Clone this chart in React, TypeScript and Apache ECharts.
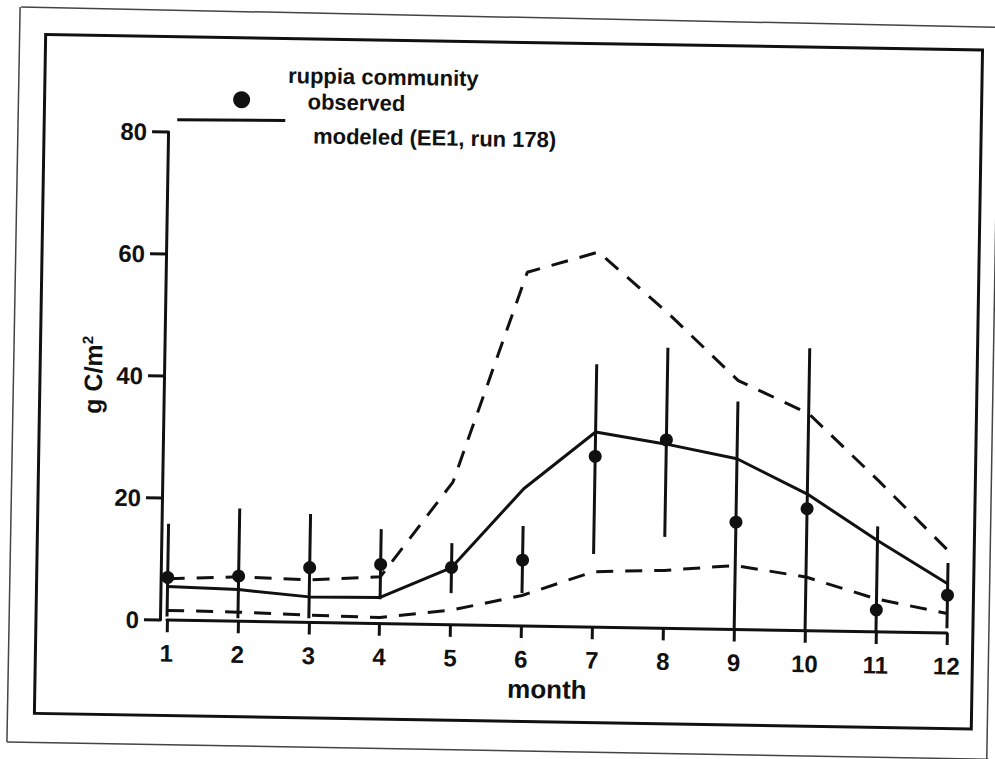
import React, { useEffect, useRef } from "react";
import * as echarts from "echarts";

const months = [1, 2, 3, 4, 5, 6, 7, 8, 9, 10, 11, 12];
const observed = [7.0, 7.4, 9.0, 9.7, 9.4, 10.8, 28.0, 30.9, 17.6, 20.0, 3.6, 6.2];
const errLow = [0.6, 0.5, 0.7, 4.0, 5.2, 5.4, 12.0, 15.0, 0.2, 0.0, 0.0, 0.8];
const errHigh = [15.8, 18.5, 17.8, 15.5, 13.4, 16.4, 43.1, 46.0, 37.4, 46.3, 17.3, 11.5];
const modeled = [5.5, 5.2, 4.2, 4.3, 9.4, 22.5, 32.0, 30.2, 28.0, 22.4, 15.0, 8.1];
const modeledUpper = [6.8, 7.3, 7.0, 7.7, 23.4, 58.0, 61.5, 51.6, 40.8, 35.6, 24.8, 13.5];
const modeledLower = [1.6, 1.5, 1.2, 1.0, 2.4, 5.0, 9.1, 9.5, 10.5, 8.8, 5.4, 3.2];
const yTicks = { min: 0, max: 80, interval: 20 };
const legendTitle = "ruppia community";
const legendObserved = "observed";
const legendModeled = "modeled (EE1, run 178)";

const INK = "#111";
const FONT = '"Liberation Sans", Arial, Helvetica, sans-serif';

export default function App() {
  const ref = useRef<HTMLDivElement>(null);

  useEffect(() => {
    if (!ref.current) return;
    const chart = echarts.init(ref.current, undefined, { renderer: "svg" });
    const pair = (vals: number[]) => months.map((m, i) => [m, vals[i]]);
    const dashed = {
      color: INK,
      width: 3,
      type: [17, 12] as any,
    };
    chart.setOption({
      animation: false,
      backgroundColor: "#fff",
      grid: { left: 171, right: 44, top: 137.5, bottom: 133.4, containLabel: false },
      xAxis: {
        type: "value",
        min: 1,
        max: 12,
        interval: 1,
        offset: 3,
        name: "month",
        nameLocation: "middle",
        nameGap: 45,
        nameTextStyle: {
          fontFamily: FONT,
          fontWeight: "bold",
          fontSize: 26,
          color: INK,
          padding: [0, 18, 0, 0],
        },
        axisLine: { show: true, lineStyle: { color: INK, width: 3 } },
        axisTick: { show: true, length: 12, lineStyle: { color: INK, width: 3 } },
        axisLabel: { fontFamily: FONT, fontWeight: "bold", fontSize: 24, color: INK, margin: 18 },
        splitLine: { show: false },
      },
      yAxis: {
        type: "value",
        min: yTicks.min,
        max: yTicks.max,
        interval: yTicks.interval,
        offset: 7,
        name: "{a|g C/m}{s|2}",
        nameLocation: "middle",
        nameRotate: 90,
        nameGap: 40,
        nameTextStyle: {
          color: INK,
          rich: {
            a: { fontFamily: FONT, fontWeight: "bold", fontSize: 25, color: INK },
            s: { fontFamily: FONT, fontWeight: "bold", fontSize: 15, color: INK, padding: [0, 0, 12, 0] },
          },
        },
        axisLine: { show: true, lineStyle: { color: INK, width: 3 } },
        axisTick: { show: true, length: 16, lineStyle: { color: INK, width: 3 } },
        axisLabel: { fontFamily: FONT, fontWeight: "bold", fontSize: 24, color: INK, margin: 21 },
        splitLine: { show: false },
      },
      graphic: [
        {
          type: "rect",
          shape: { x: 40, y: 42, width: 937, height: 679 },
          style: { fill: "none", stroke: INK, lineWidth: 3 },
          silent: true,
        },
        { type: "line", shape: { x1: 15, y1: 15, x2: 995, y2: 19 }, style: { stroke: "#444", lineWidth: 1.5 }, silent: true },
        { type: "line", shape: { x1: 14, y1: 15, x2: 13, y2: 750 }, style: { stroke: "#444", lineWidth: 1.5 }, silent: true },
        { type: "line", shape: { x1: 13, y1: 750, x2: 995, y2: 751 }, style: { stroke: "#444", lineWidth: 1.5 }, silent: true },
        { type: "line", shape: { x1: 993, y1: 15, x2: 993, y2: 751 }, style: { stroke: "#444", lineWidth: 1.5 }, silent: true },
        {
          type: "text",
          x: 283,
          y: 79,
          style: { text: legendTitle, font: `bold 22px ${FONT}`, fill: INK, verticalAlign: "middle" },
        },
        { type: "circle", shape: { cx: 237, cy: 104, r: 8.5 }, style: { fill: INK } },
        {
          type: "text",
          x: 303,
          y: 105,
          style: { text: legendObserved, font: `bold 22px ${FONT}`, fill: INK, verticalAlign: "middle" },
        },
        { type: "line", shape: { x1: 173, y1: 125, x2: 281, y2: 124 }, style: { stroke: INK, lineWidth: 3 } },
        {
          type: "text",
          x: 309,
          y: 139,
          style: { text: legendModeled, font: `bold 22px ${FONT}`, fill: INK, verticalAlign: "middle" },
        },
      ],
      series: [
        {
          name: "modeled upper",
          type: "line",
          data: pair(modeledUpper),
          symbol: "none",
          lineStyle: dashed,
          z: 2,
        },
        {
          name: "modeled lower",
          type: "line",
          data: pair(modeledLower),
          symbol: "none",
          lineStyle: dashed,
          z: 2,
        },
        {
          name: "modeled",
          type: "line",
          data: pair(modeled),
          symbol: "none",
          lineStyle: { color: INK, width: 3 },
          z: 3,
        },
        {
          name: "error",
          type: "custom",
          data: months.map((m, i) => [m, errLow[i], errHigh[i]]),
          encode: { x: 0, y: [1, 2] },
          renderItem: (_params: any, api: any) => {
            const x = api.value(0);
            const p1 = api.coord([x, api.value(1)]);
            const p2 = api.coord([x, api.value(2)]);
            return {
              type: "line",
              shape: { x1: p1[0], y1: p1[1], x2: p2[0], y2: p2[1] },
              style: { stroke: INK, lineWidth: 3 },
            };
          },
          z: 4,
        },
        {
          name: "observed",
          type: "scatter",
          data: pair(observed),
          symbol: "circle",
          symbolSize: 13,
          itemStyle: { color: INK, opacity: 1 },
          z: 5,
        },
      ],
    });
    return () => chart.dispose();
  }, []);

  return (
    <div
      style={{
        position: "fixed",
        left: 0,
        top: 0,
        width: 995,
        height: 759,
        background: "#fff",
        overflow: "hidden",
      }}
    >
      <div
        ref={ref}
        style={{
          width: 995,
          height: 759,
          transform: "rotate(0.95deg)",
          transformOrigin: "497.5px 379.5px",
        }}
      />
    </div>
  );
}
